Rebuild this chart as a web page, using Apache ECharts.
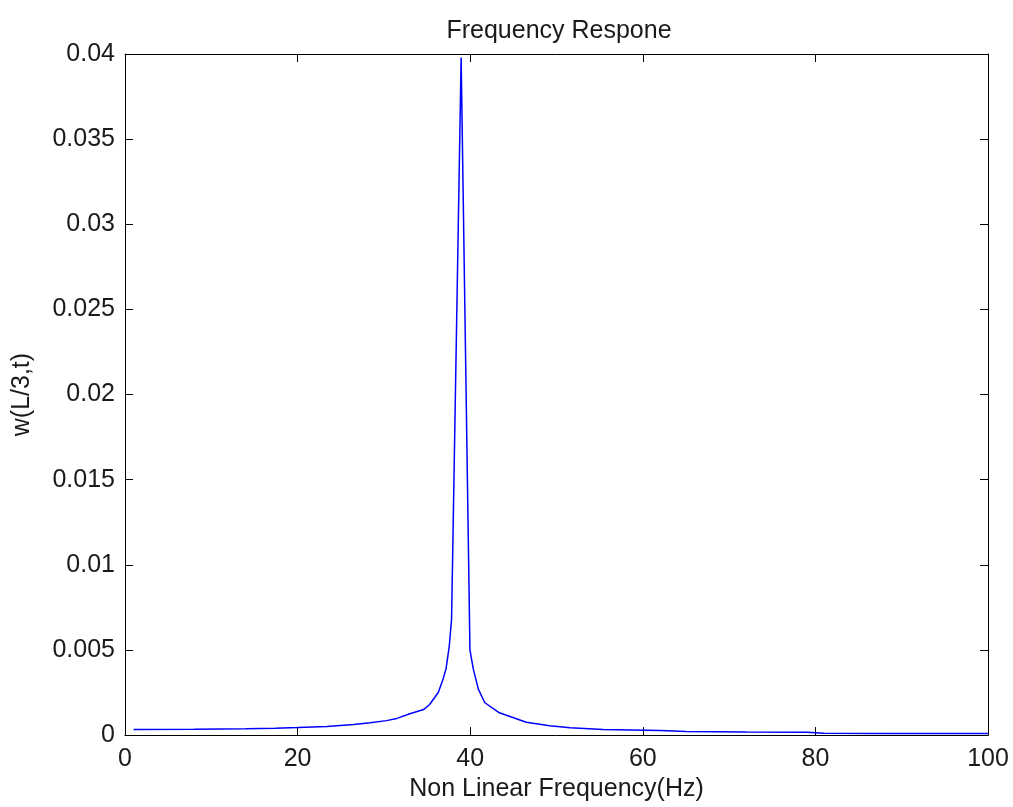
<!DOCTYPE html>
<html>
<head>
<meta charset="utf-8">
<script src="https://cdn.jsdelivr.net/npm/echarts@6/dist/echarts.min.js"></script>
<style>html,body{margin:0;padding:0;background:#fff;}#c{width:1013px;height:807px;}</style>
</head>
<body>
<div id="c"></div>
<script>
const freq = [1, 8, 14, 17.4, 20, 23.4, 26.5, 28.4, 30.3, 31.5, 33, 34.6, 35.3, 36.3, 36.8, 37.2, 37.57, 37.84, 37.95, 38.95, 39.97, 40.35, 40.94, 41.7, 43.3, 46.5, 49.2, 51.6, 55.4, 62, 65, 72, 79, 81, 88, 94, 100];
const amp = [0.00033, 0.00035, 0.00037, 0.0004, 0.00044, 0.0005, 0.00062, 0.00072, 0.00085, 0.00098, 0.00125, 0.0015, 0.0018, 0.0025, 0.0032, 0.0039, 0.0052, 0.0068, 0.0100, 0.0398, 0.0050, 0.0039, 0.0027, 0.0019, 0.00133, 0.00075, 0.00055, 0.00043, 0.00033, 0.00027, 0.00021, 0.00018, 0.00017, 0.00011, 0.0001, 0.00009, 0.00009];
const xTicks = [0, 20, 40, 60, 80, 100];
const yTicks = [0, 0.005, 0.01, 0.015, 0.02, 0.025, 0.03, 0.035, 0.04];

const FONT = 'Liberation Sans, Arial, sans-serif';
const TXT = '#1a1a1a';
const chart = echarts.init(document.getElementById('c'), null, {renderer: 'canvas'});
const mkLine = () => ({show: true, onZero: false, lineStyle: {color: '#000', width: 1}});
const mkTick = () => ({show: true, inside: true, length: 8, lineStyle: {color: '#000', width: 1}});
chart.setOption({
  animation: false,
  backgroundColor: '#fff',
  title: {
    text: 'Frequency Respone', left: 554, top: 14, textAlign: 'center',
    textStyle: {fontFamily: FONT, fontSize: 25, fontWeight: 'normal', color: TXT}
  },
  grid: {left: 125, right: 25, top: 54, bottom: 71},
  xAxis: [{
    type: 'value', min: xTicks[0], max: xTicks[xTicks.length - 1], interval: 20,
    position: 'bottom',
    name: 'Non Linear Frequency(Hz)', nameLocation: 'middle', nameGap: 37,
    nameTextStyle: {fontFamily: FONT, fontSize: 25, color: TXT, verticalAlign: 'top'},
    axisLine: mkLine(), axisTick: mkTick(),
    axisLabel: {fontFamily: FONT, fontSize: 25, color: TXT, margin: 12},
    splitLine: {show: false}
  }, {
    type: 'value', min: xTicks[0], max: xTicks[xTicks.length - 1], interval: 20,
    position: 'top',
    axisLine: mkLine(), axisTick: mkTick(),
    axisLabel: {show: false}, splitLine: {show: false}
  }],
  yAxis: [{
    type: 'value', min: yTicks[0], max: yTicks[yTicks.length - 1], interval: 0.005,
    position: 'left',
    name: 'w(L/3,t)', nameLocation: 'middle', nameGap: 90, nameRotate: 90,
    nameTextStyle: {fontFamily: FONT, fontSize: 25, color: TXT},
    axisLine: mkLine(), axisTick: mkTick(),
    axisLabel: {fontFamily: FONT, fontSize: 25, color: TXT, margin: 10,
      formatter: v => String(parseFloat(v.toFixed(4)))},
    splitLine: {show: false}
  }, {
    type: 'value', min: yTicks[0], max: yTicks[yTicks.length - 1], interval: 0.005,
    position: 'right',
    axisLine: mkLine(), axisTick: mkTick(),
    axisLabel: {show: false}, splitLine: {show: false}
  }],
  series: [{
    type: 'line',
    data: freq.map((f, i) => [f, amp[i]]),
    showSymbol: false, symbol: 'none',
    lineStyle: {color: '#0000ff', width: 1.5},
    xAxisIndex: 0, yAxisIndex: 0
  }]
});
</script>
</body>
</html>
